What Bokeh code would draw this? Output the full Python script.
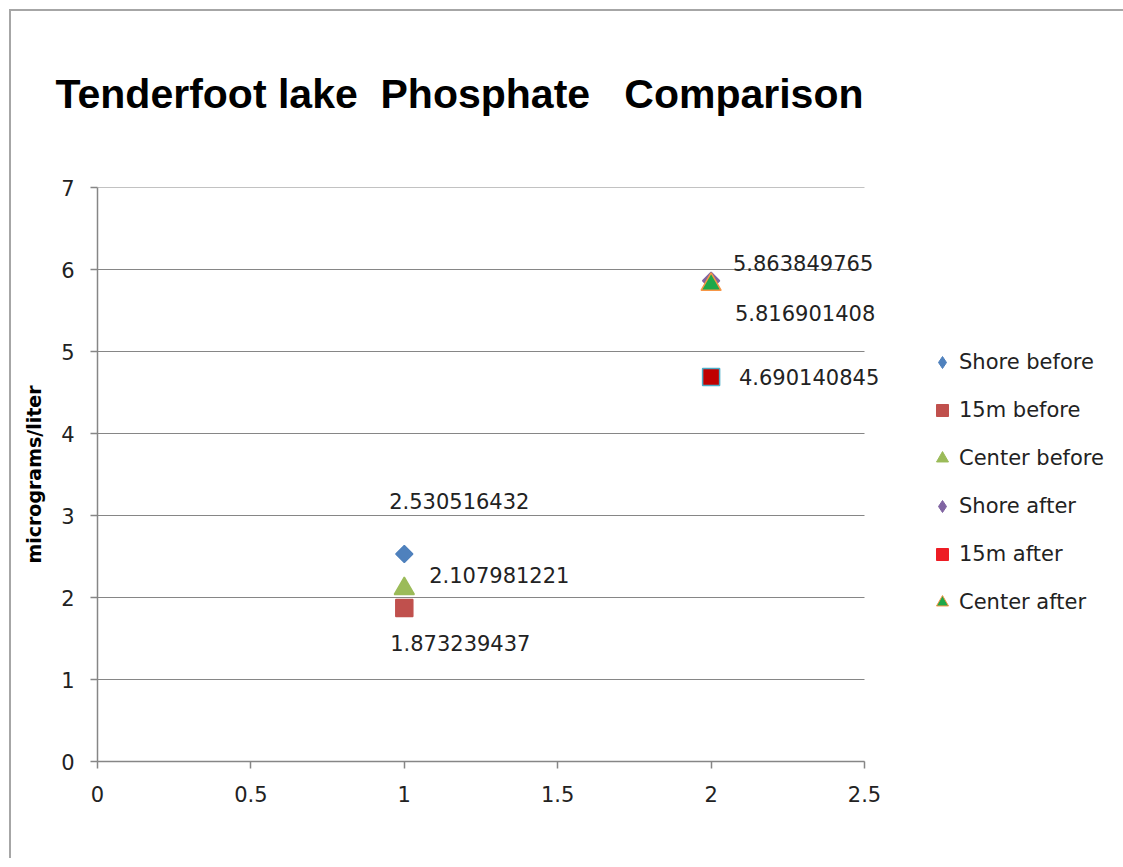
from bokeh.plotting import figure
from bokeh.models import (ColumnDataSource, Legend, LegendItem, FixedTicker, CustomJSTickFormatter,
                          LabelSet, Title)
from bokeh.core.properties import value
from bokeh.embed import file_html
from bokeh.resources import INLINE
import math

# ---- data ----
series_names = ["Shore before", "15m before", "Center before", "Shore after", "15m after", "Center after"]
series_x = [1, 1, 1, 2, 2, 2]
series_y = [2.530516432, 1.873239437, 2.107981221, 5.863849765, 4.690140845, 5.816901408]
x_ticks = [0, 0.5, 1, 1.5, 2, 2.5]
y_ticks = [0, 1, 2, 3, 4, 5, 6, 7]
title_text = "Tenderfoot lake\u00a0 Phosphate\u00a0\u00a0 Comparison"
y_label = "micrograms/liter"

# ---- styles ----
markers = ["square", "square", "triangle", "square", "square", "triangle"]
legend_markers = ["diamond", "square", "triangle", "diamond", "square", "triangle"]
legend_sizes = [20, 16, 17, 20, 22, 17]
angles = [math.pi / 4, 0, 0, math.pi / 4, 0, 0]
sizes = [12, 17, 20, 12, 17, 20]
fills = ["#4F81BD", "#C0504D", "#9BBB59", "#8064A2", "#C00000", "#1FA84A"]
lines = ["#4F81BD", "#C0504D", "#9BBB59", "#8064A2", "#4BACC6", "#F79646"]
legend_fill = ["#4F81BD", "#C0504D", "#9BBB59", "#8064A2", "#ED1C24", "#1FA84A"]
legend_line = ["#4F81BD", "#C0504D", "#9BBB59", "#8064A2", "#ED1C24", "#F79646"]
label_dx = [55, 56, 95, 92, 98, 94]
label_dy = [53, -35, 14, 18, 0, -28]

GRID = "#868686"
FONT = "DejaVu Sans"
FS = "21px"

# plot area 767px wide for 0..2.5; the frame is widened so value labels are not clipped
AXIS_W = 767
EXTRA = 40
x_lo, x_hi = x_ticks[0], x_ticks[-1]
x_end = x_hi + (x_hi - x_lo) * EXTRA / AXIS_W

p = figure(frame_width=AXIS_W + EXTRA, frame_height=574,
           min_border_left=86, min_border_right=249 - EXTRA, min_border_top=176, min_border_bottom=97,
           x_range=(x_lo, x_end), y_range=(y_ticks[0], y_ticks[-1]),
           output_backend="svg", toolbar_location=None, tools="",
           background_fill_color="white", border_fill_color="white")
p.styles = {"border-left": "2px solid #a6a6a6", "border-top": "2px solid #a6a6a6",
            "margin-left": "9px", "margin-top": "9px"}
p.outline_line_color = None

# spacer panel between title and plot area
p.add_layout(Title(text=" ", text_font_size="1px", standoff=15), "above")

p.title.text = title_text
p.title.text_font = "Liberation Sans"
p.title.text_font_size = "41px"
p.title.text_font_style = "bold"
p.title.text_color = "black"
p.title.align = "left"
p.title.offset = -42
p.title.standoff = 106

# horizontal gridlines, limited to the axis extent
p.xgrid.visible = False
p.ygrid.visible = False
p.segment(x0=[x_lo] * len(y_ticks), x1=[x_hi] * len(y_ticks), y0=y_ticks, y1=y_ticks,
          line_color=GRID, line_width=1)

for ax in (p.xaxis[0], p.yaxis[0]):
    ax.axis_line_color = GRID
    ax.axis_line_width = 1.5
    ax.major_tick_line_color = GRID
    ax.major_tick_line_width = 1.5
    ax.major_tick_out = 7
    ax.major_tick_in = 0
    ax.minor_tick_line_color = None
    ax.major_label_text_font = FONT
    ax.major_label_text_font_size = FS
    ax.major_label_text_color = "#222222"

p.xaxis.bounds = (x_lo, x_hi)
p.xaxis.ticker = FixedTicker(ticks=x_ticks)
p.yaxis.ticker = FixedTicker(ticks=y_ticks)
p.xaxis.formatter = CustomJSTickFormatter(code="return String(tick);")
p.xaxis.major_label_standoff = 17
p.yaxis.major_label_standoff = 16
p.yaxis.axis_label = y_label
p.yaxis.axis_label_text_font = FONT
p.yaxis.axis_label_text_font_size = "19px"
p.yaxis.axis_label_text_font_style = "bold"
p.yaxis.axis_label_text_color = "black"
p.yaxis.axis_label_standoff = 13

items = []
nan = float("nan")
for i, name in enumerate(series_names):
    src = ColumnDataSource(dict(x=[series_x[i]], y=[series_y[i]]))
    p.scatter("x", "y", source=src, marker=markers[i], size=sizes[i], angle=angles[i],
              fill_color=fills[i], line_color=lines[i], line_width=1.5)
    # legend-only renderer (off-plot) with legend styling
    leg_src = ColumnDataSource(dict(x=[nan], y=[nan]))
    r = p.scatter("x", "y", source=leg_src, marker=legend_markers[i], size=legend_sizes[i],
                  fill_color=legend_fill[i], line_color=legend_line[i], line_width=1)
    items.append(LegendItem(label=name, renderers=[r]))

lbl_src = ColumnDataSource(dict(
    x=series_x, y=series_y, text=[str(v) for v in series_y], dx=label_dx, dy=label_dy))
labels = LabelSet(x="x", y="y", text="text", source=lbl_src, x_offset="dx", y_offset="dy",
                  text_align="center", text_baseline="middle",
                  text_font=value(FONT), text_font_size=value(FS), text_color=value("#222222"))
p.add_layout(labels)

legend = Legend(items=items, location=(63 - EXTRA, 144), orientation="vertical")
legend.border_line_color = None
legend.background_fill_color = None
legend.margin = 0
legend.padding = 0
legend.glyph_width = 30
legend.glyph_height = 30
legend.label_height = 30
legend.spacing = 18
legend.label_standoff = 2
legend.label_text_font = FONT
legend.label_text_font_size = FS
legend.label_text_color = "#222222"
p.add_layout(legend, "right")

open("out.html", "w").write(file_html(p, INLINE))
